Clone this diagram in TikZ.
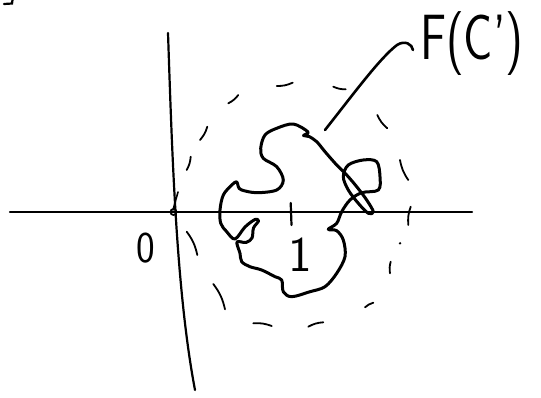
\documentclass[tikz,border=0pt]{standalone}
\usepackage{fontspec}
\usetikzlibrary{positioning}
\definecolor{ink}{HTML}{000000}
\tikzset{axis/.style={line width=2.2pt,ink,line cap=round},
blob/.style={line width=3pt,ink,line cap=round,line join=round},
dashmark/.style={line width=1.8pt,ink,line cap=round},
lead/.style={line width=2.6pt,ink,line cap=round},
lab/.style={font=\sffamily,text=ink,inner sep=0pt}}

\begin{document}
\begin{tikzpicture}[x=1pt,y=-1pt]
\useasboundingbox (0,0) rectangle (541,398);
% axes
\coordinate (xl) at (10,212);
\coordinate (xr) at (472,212);
\coordinate (yt) at (168,33);
\coordinate (yb) at (195,390);
\coordinate (origin) at (173.5,212);
\draw[axis] (xl)--(xr);
\draw[axis] (yt) .. controls (172,150) and (176,290) .. (yb);
\draw[line width=1.8pt] (origin) circle (3);
\draw[line width=1.6pt,line cap=round] (178,192)--(173,210);
\draw[axis] (290.7,203)--(291.5,225);
\draw[line width=2.2pt,line cap=round] (4,4)--(12,3.5)--(12.5,0);
\node[lab,font=\sffamily\fontsize{44}{44}\selectfont,xscale=.9] (zero) at (146,248) {0};
\node[lab,font=\sffamily\fontsize{50}{50}\selectfont] (one) at (300,255) {1};
% dashed disc round 1
\foreach \ax/\ay/\bx/\by in {228.3/103.3/238.3/95, 276.7/86/292.7/82.7, 333.3/86.7/345.7/89.3,
  377.3/115/387.3/128.3, 400/160/408.3/180, 410.7/206.7/408.3/225, 390.7/261.7/390/273.3,
  373.3/302.7/365/307.3, 323.3/322.3/308.3/326.7, 271.7/326/253.3/323.3,
  225/309.3/213.3/284, 197.3/255/186.7/231.7, 186.7/170/190.7/156.7, 200/140/207.3/126.7}
  \draw[dashmark] (\ax,\ay) to[bend right=12] (\bx,\by);
\fill[ink] (400,243.3) circle (1.3);
% the curve F(C')
\draw[blob] plot[smooth cycle,tension=.55] coordinates {
  (293.3,124) (308,132) (303.5,135.5) (309,136.5) (316.7,141.7) (325,151.7)
  (336.7,165) (346.7,175) (356.7,186.7) (366.7,200) (373.3,211.7) (368.3,213.3)
  (358.3,203.3) (348.3,190) (343.3,176.7) (348.3,165) (363.3,160) (376.7,161.7)
  (380,176.7) (378.3,190) (361.7,192.7) (350,200) (341.7,211.7) (336.7,223.3)
  (328.3,229.3) (336.7,230.7) (343.3,240) (345,256.7) (336.7,273.3) (325,286.7)
  (310,291.7) (291.7,296.7) (283.3,291.7) (281.7,280) (275,276.7) (261.7,270)
  (250,266.7) (241.7,261.7) (240,253.3) (237,242) (246,242.5) (252,238)
  (253.5,228) (258.5,221) (255,219.5) (245,227) (235,239) (226.7,231.7)
  (220.7,223.3) (220,210) (223.3,195) (231.7,185) (236.7,181.7) (238.3,186.7)
  (241.7,190) (256.7,192.7) (276.7,190) (283.3,180) (276.7,166.7) (263.3,158.3)
  (260.7,148.3) (265,135) (276.7,128.3)};
% label and leader
\node[lab,font=\sffamily\fontsize{64}{64}\selectfont,anchor=base west,xscale=.76] (fc) at (420,60) {F(C')};
\coordinate (tip) at (325,130);
\coordinate (hook) at (413,50);
\draw[lead] (tip) .. controls (355,92) and (380,58) .. (397,45) .. controls (405,40) and (412,44) .. (hook);
\end{tikzpicture}
\end{document}
